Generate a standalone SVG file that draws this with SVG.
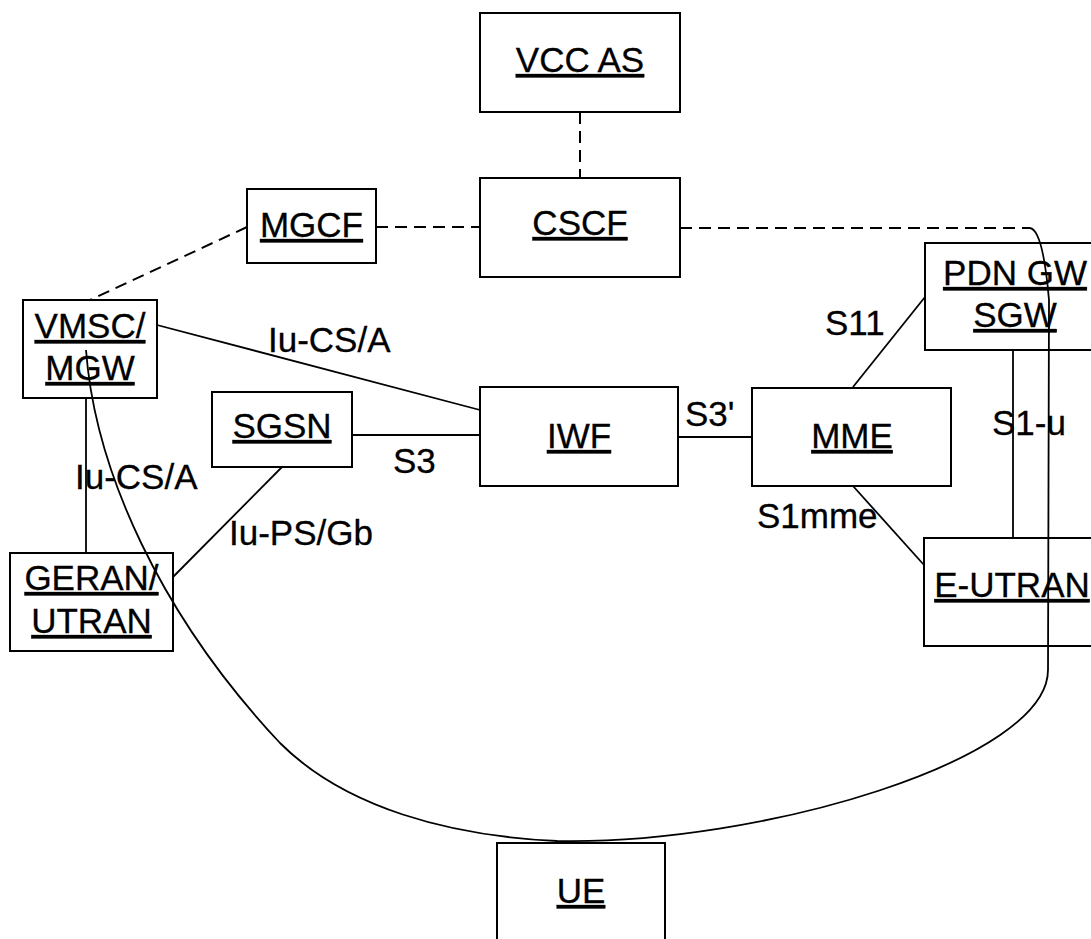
<svg xmlns="http://www.w3.org/2000/svg" width="1091" height="939" viewBox="0 0 1091 939">
<style>
  .box { fill: #ffffff; stroke: #000000; stroke-width: 2; }
  .lbl { font-family: "Liberation Sans", Arial, sans-serif; font-size: 35px; fill: #000000; stroke: #000000; stroke-width: 0.3; }
  .name { font-family: "Liberation Sans", Arial, sans-serif; font-size: 35px; fill: #000000; stroke: #000000; stroke-width: 0.3; text-anchor: middle; text-decoration: underline; text-decoration-thickness: 3px; }
  .ln { fill: none; stroke: #000000; stroke-width: 1.8; }
  .dash { fill: none; stroke: #000000; stroke-width: 2; stroke-dasharray: 12 7; }
</style>
<rect x="0" y="0" width="1091" height="939" fill="#ffffff"/>

<g id="connectors">
  <line class="dash" x1="580" y1="112" x2="580" y2="178"/>
  <line class="dash" x1="376" y1="227" x2="480" y2="227"/>
  <line class="dash" x1="247" y1="227" x2="90" y2="300"/>
  <line class="dash" x1="680" y1="228" x2="1030" y2="228"/>
  <line class="ln" x1="157" y1="325" x2="480" y2="410"/>
  <line class="ln" x1="352" y1="435" x2="480" y2="435"/>
  <line class="ln" x1="678" y1="437" x2="752" y2="437"/>
  <line class="ln" x1="853" y1="387" x2="925" y2="297"/>
  <line class="ln" x1="853" y1="486" x2="924" y2="565"/>
  <line class="ln" x1="1013" y1="350" x2="1013" y2="538"/>
  <line class="ln" x1="86" y1="398" x2="86" y2="553"/>
  <line class="ln" x1="282" y1="467" x2="173" y2="577"/>
</g>

<g id="vccas"><rect class="box" x="480" y="13" width="200" height="99"/><text class="name" x="580" y="72">VCC AS</text></g>
<g id="cscf"><rect class="box" x="480" y="178" width="200" height="99"/><text class="name" x="580" y="235">CSCF</text></g>
<g id="mgcf"><rect class="box" x="247" y="189" width="129" height="74"/><text class="name" x="311.5" y="237">MGCF</text></g>
<g id="vmsc"><rect class="box" x="23" y="300" width="134" height="98"/><text class="name" x="90" y="338">VMSC/</text><text class="name" x="90" y="380">MGW</text></g>
<g id="sgsn"><rect class="box" x="212" y="392" width="140" height="75"/><text class="name" x="282" y="438">SGSN</text></g>
<g id="iwf"><rect class="box" x="480" y="387" width="198" height="99"/><text class="name" x="579" y="448">IWF</text></g>
<g id="mme"><rect class="box" x="752" y="388" width="199" height="98"/><text class="name" x="852" y="448">MME</text></g>
<g id="pdngw"><rect class="box" x="925" y="243" width="180" height="107"/><text class="name" x="1015" y="285">PDN GW</text><text class="name" x="1015" y="327">SGW</text></g>
<g id="eutran"><rect class="box" x="924" y="538" width="178" height="108"/><text class="name" x="1012" y="597">E-UTRAN</text></g>
<g id="geran"><rect class="box" x="10" y="553" width="163" height="98"/><text class="name" x="91.5" y="590">GERAN/</text><text class="name" x="91.5" y="633">UTRAN</text></g>
<g id="ue"><rect class="box" x="497" y="843" width="168" height="110"/><text class="name" x="581" y="903">UE</text></g>

<g id="curve">
  <path class="ln" d="M86,350 C95,470 160,615 280,743 C345,808 450,836 557,841 C760,845 1048,760 1048,670 L1049,300 Q1043,230 1030,228"/>
</g>

<g id="labels">
  <text class="lbl" x="268" y="352">Iu-CS/A</text>
  <text class="lbl" x="75" y="489">Iu-CS/A</text>
  <text class="lbl" x="393" y="473">S3</text>
  <text class="lbl" x="685" y="426">S3'</text>
  <text class="lbl" x="229" y="545">Iu-PS/Gb</text>
  <text class="lbl" x="825" y="335">S11</text>
  <text class="lbl" x="992" y="435">S1-u</text>
  <text class="lbl" x="757" y="528">S1mme</text>
</g>
</svg>
